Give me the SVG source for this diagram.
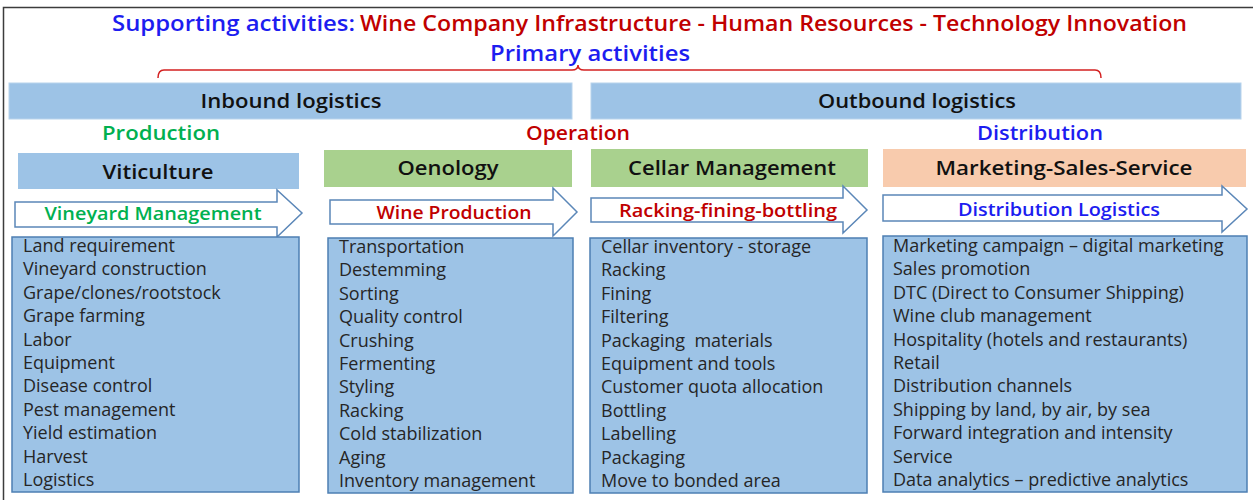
<svg xmlns="http://www.w3.org/2000/svg" width="1253" height="500" viewBox="0 0 1253 500">
  <style>
    text { font-family: "Open Sans", "Liberation Sans", sans-serif; }
    .title { font-size: 22px; font-weight: 600; }
    .blue { fill: #1d1df0; }
    .red { fill: #c00000; }
    .green { fill: #00b050; }
    .bar { fill: #9dc3e6; stroke: #b8d3ec; stroke-width: 1; }
    .barText { font-size: 20px; font-weight: 600; fill: #111; text-anchor: middle; }
    .section { font-size: 20px; font-weight: 600; text-anchor: middle; }
    .hdrBlue { fill: #9dc3e6; }
    .hdrGreen { fill: #a9d18e; }
    .hdrPeach { fill: #f8cbad; }
    .hdrText { font-size: 20px; font-weight: 600; fill: #111; text-anchor: middle; }
    .arrow { fill: #ffffff; stroke: #5b87b8; stroke-width: 1.5; stroke-linejoin: miter; }
    .arrowText { font-size: 17.5px; font-weight: 600; text-anchor: middle; }
    .list { fill: #9dc3e6; stroke: #4d7fb3; stroke-width: 1.5; }
    .item { font-size: 18px; fill: #262626; }
    .brace { fill: none; stroke: #d42020; stroke-width: 1.5; }
  </style>

  <!-- page background and frame -->
  <rect x="0" y="0" width="1253" height="500" fill="#ffffff"/>
  <rect x="3.5" y="7.5" width="1262" height="500" fill="none" stroke="#3c3c3c" stroke-width="1.5"/>

  <!-- heading -->
  <g id="supporting">
    <text x="112" y="31" class="title blue" textLength="243" lengthAdjust="spacingAndGlyphs">Supporting activities:</text>
    <text x="360" y="31" class="title red" textLength="827" lengthAdjust="spacingAndGlyphs">Wine Company Infrastructure - Human Resources - Technology Innovation</text>
  </g>
  <g id="primary">
    <text x="590" y="61" class="title blue" text-anchor="middle" textLength="200" lengthAdjust="spacingAndGlyphs">Primary activities</text>
    <path class="brace" d="M158,78 Q158,70 164,70 H572 Q578,70 578,65 Q578,70 584,70 H1095 Q1101,70 1101,78"/>
  </g>

  <!-- logistics bars -->
  <g id="inbound">
    <rect class="bar" x="9" y="83" width="563" height="36"/>
    <text class="barText" x="291" y="108" textLength="181" lengthAdjust="spacingAndGlyphs">Inbound logistics</text>
  </g>
  <g id="outbound">
    <rect class="bar" x="591" y="83" width="650" height="36"/>
    <text class="barText" x="917" y="108" textLength="198" lengthAdjust="spacingAndGlyphs">Outbound logistics</text>
  </g>

  <!-- section labels -->
  <g id="sections">
    <text class="section green" x="161" y="140" textLength="118" lengthAdjust="spacingAndGlyphs">Production</text>
    <text class="section red" x="578" y="140" textLength="104" lengthAdjust="spacingAndGlyphs">Operation</text>
    <text class="section blue" x="1040" y="140" textLength="126" lengthAdjust="spacingAndGlyphs">Distribution</text>
  </g>

  <!-- column: viticulture -->
  <g id="viticulture">
    <rect class="hdrBlue" x="18" y="153" width="281" height="36"/>
    <text class="hdrText" x="158" y="179" textLength="111" lengthAdjust="spacingAndGlyphs">Viticulture</text>
    <path class="arrow" d="M15,202 H277 V190 L302,213 L277,237 V227 H15 Z"/>
    <text class="arrowText green" x="153" y="220" textLength="217" lengthAdjust="spacingAndGlyphs">Vineyard Management</text>
    <rect class="list" x="12" y="237" width="287" height="255"/>
    <text class="item" x="23" y="252">Land requirement</text>
    <text class="item" x="23" y="275.4">Vineyard construction</text>
    <text class="item" x="23" y="298.8">Grape/clones/rootstock</text>
    <text class="item" x="23" y="322.2">Grape farming</text>
    <text class="item" x="23" y="345.6">Labor</text>
    <text class="item" x="23" y="369">Equipment</text>
    <text class="item" x="23" y="392.4">Disease control</text>
    <text class="item" x="23" y="415.8">Pest management</text>
    <text class="item" x="23" y="439.2">Yield estimation</text>
    <text class="item" x="23" y="462.6">Harvest</text>
    <text class="item" x="23" y="486">Logistics</text>
  </g>

  <!-- column: oenology -->
  <g id="oenology">
    <rect class="hdrGreen" x="324" y="150" width="248" height="37"/>
    <text class="hdrText" x="448" y="175" textLength="101" lengthAdjust="spacingAndGlyphs">Oenology</text>
    <path class="arrow" d="M330,200 H553 V188 L577,212 L553,236 V224 H330 Z"/>
    <text class="arrowText red" x="454" y="219" textLength="155" lengthAdjust="spacingAndGlyphs">Wine Production</text>
    <rect class="list" x="328" y="238" width="245" height="255"/>
    <text class="item" x="339" y="253">Transportation</text>
    <text class="item" x="339" y="276.4">Destemming</text>
    <text class="item" x="339" y="299.8">Sorting</text>
    <text class="item" x="339" y="323.2">Quality control</text>
    <text class="item" x="339" y="346.6">Crushing</text>
    <text class="item" x="339" y="370">Fermenting</text>
    <text class="item" x="339" y="393.4">Styling</text>
    <text class="item" x="339" y="416.8">Racking</text>
    <text class="item" x="339" y="440.2">Cold stabilization</text>
    <text class="item" x="339" y="463.6">Aging</text>
    <text class="item" x="339" y="487">Inventory management</text>
  </g>

  <!-- column: cellar management -->
  <g id="cellar">
    <rect class="hdrGreen" x="591" y="149" width="277" height="38"/>
    <text class="hdrText" x="732" y="175" textLength="208" lengthAdjust="spacingAndGlyphs">Cellar Management</text>
    <path class="arrow" d="M591,198 H843 V186 L867,210 L843,233 V222 H591 Z"/>
    <text class="arrowText red" x="728" y="217" textLength="218" lengthAdjust="spacingAndGlyphs">Racking-fining-bottling</text>
    <rect class="list" x="590" y="238" width="277" height="255"/>
    <text class="item" x="601" y="253">Cellar inventory - storage</text>
    <text class="item" x="601" y="276.4">Racking</text>
    <text class="item" x="601" y="299.8">Fining</text>
    <text class="item" x="601" y="323.2">Filtering</text>
    <text class="item" x="601" y="346.6" xml:space="preserve">Packaging  materials</text>
    <text class="item" x="601" y="370">Equipment and tools</text>
    <text class="item" x="601" y="393.4">Customer quota allocation</text>
    <text class="item" x="601" y="416.8">Bottling</text>
    <text class="item" x="601" y="440.2">Labelling</text>
    <text class="item" x="601" y="463.6">Packaging</text>
    <text class="item" x="601" y="487">Move to bonded area</text>
  </g>

  <!-- column: marketing, sales, service -->
  <g id="marketing">
    <rect class="hdrPeach" x="883" y="149" width="363" height="38"/>
    <text class="hdrText" x="1064" y="175" textLength="257" lengthAdjust="spacingAndGlyphs">Marketing-Sales-Service</text>
    <path class="arrow" d="M883,195 H1222 V186 L1247,209 L1222,232 V221 H883 Z"/>
    <text class="arrowText blue" x="1059" y="216" textLength="202" lengthAdjust="spacingAndGlyphs">Distribution Logistics</text>
    <rect class="list" x="883" y="236" width="364" height="256"/>
    <text class="item" x="893" y="252">Marketing campaign – digital marketing</text>
    <text class="item" x="893" y="275.4">Sales promotion</text>
    <text class="item" x="893" y="298.8">DTC (Direct to Consumer Shipping)</text>
    <text class="item" x="893" y="322.2">Wine club management</text>
    <text class="item" x="893" y="345.6">Hospitality (hotels and restaurants)</text>
    <text class="item" x="893" y="369">Retail</text>
    <text class="item" x="893" y="392.4">Distribution channels</text>
    <text class="item" x="893" y="415.8">Shipping by land, by air, by sea</text>
    <text class="item" x="893" y="439.2">Forward integration and intensity</text>
    <text class="item" x="893" y="462.6">Service</text>
    <text class="item" x="893" y="486">Data analytics – predictive analytics</text>
  </g>
</svg>
